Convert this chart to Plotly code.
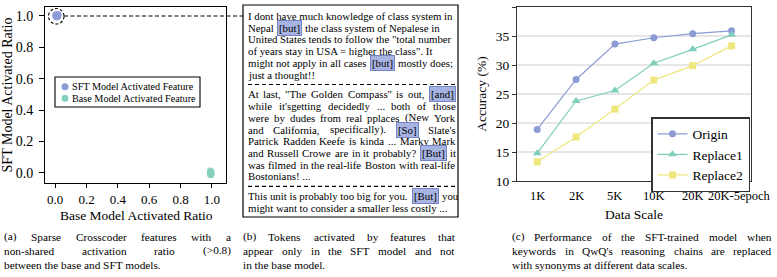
import re
import plotly.graph_objects as go

W, H = 777, 277
FONT = "Liberation Serif"

# ---------------- data ----------------
# (a) scatter of activation ratios
sft_ratio_x = [0.006, 0.012, 0.016, 0.009, 0.013]
sft_ratio_y = [1.004, 0.999, 1.006, 0.996, 1.001]
base_ratio_x = [0.99, 0.993, 0.995, 0.991, 0.994, 0.992]
base_ratio_y = [0.012, 0.007, 0.002, -0.003, -0.008, -0.012]
a_ticks = [0.0, 0.2, 0.4, 0.6, 0.8, 1.0]

# (c) accuracy vs data scale
data_scales = ["1K", "2K", "5K", "10K", "20K", "20K-5epoch"]
acc_origin = [18.9, 27.5, 33.6, 34.7, 35.4, 35.9]
acc_replace1 = [14.8, 23.8, 25.6, 30.3, 32.7, 35.2]
acc_replace2 = [13.3, 17.6, 22.4, 27.4, 29.9, 33.3]
c_yticks = [10, 15, 20, 25, 30, 35, 40]

# (b) token examples
para1 = [
    "I dont have much knowledge of class system in",
    "Nepal [but] the class system of Nepalese in",
    "United States tends to follow the \"total number",
    "of years stay in USA = higher the class\". It",
    "might not apply in all cases [but] mostly does;",
    "just a thought!!",
]
para2 = [
    "At last, \"The Golden Compass\" is out, [and]",
    "while it'sgetting decidedly ... both of those",
    "were by dudes from real pplaces (New York",
    "and California, specifically). [So] Slate's",
    "Patrick Radden Keefe is kinda ... Marky Mark",
    "and Russell Crowe are in it probably? [But] it",
    "was filmed in the real-life Boston with real-life",
    "Bostonians! ...",
]
para3 = [
    "This unit is probably too big for you. [But] you",
    "might want to consider a smaller less costly ...",
]

caption_a = ["(a) Sparse Crosscoder features with a",
             "non-shared activation ratio (>0.8)",
             "between the base and SFT models."]
caption_b = ["(b) Tokens activated by features that",
             "appear only in the SFT model and not",
             "in the base model."]
caption_c = ["(c) Performance of the SFT-trained model when",
             "keywords in QwQ's reasoning chains are replaced",
             "with synonyms at different data scales."]

# ---------------- helpers ----------------
TNR = {' ': 250, '!': 333, '"': 408, '#': 500, '$': 500, '%': 833, '&': 778, "'": 180,
       '(': 333, ')': 333, '*': 500, '+': 564, ',': 250, '-': 333, '.': 250, '/': 278,
       ':': 278, ';': 278, '<': 564, '=': 564, '>': 564, '?': 444, '@': 921,
       '[': 333, ']': 333}
for ch in "0123456789":
    TNR[ch] = 500
for ch, w in zip("ABCDEFGHIJKLMNOPQRSTUVWXYZ",
                 [722, 667, 667, 722, 611, 556, 722, 722, 333, 389, 722, 611, 889,
                  722, 722, 556, 722, 667, 556, 611, 722, 722, 944, 722, 722, 611]):
    TNR[ch] = w
for ch, w in zip("abcdefghijklmnopqrstuvwxyz",
                 [444, 500, 444, 500, 444, 333, 500, 500, 278, 278, 500, 278, 778,
                  500, 500, 500, 500, 333, 389, 278, 500, 500, 722, 500, 500, 444]):
    TNR[ch] = w

FUDGE = 1.01


def tw(s, size):
    return sum(TNR.get(c, 500) for c in s) / 1000.0 * size * FUDGE


def fx(x):
    return x / W


def fy(y):
    return 1 - y / H


def esc(s):
    return s.replace("&", "&amp;").replace("<", "&lt;").replace(">", "&gt;")


annotations = []
shapes = []


def is_token(w):
    return w.startswith("[") and w.endswith("]")


def text_ann(text, x, y, size, token=False, xanchor="left"):
    ann = dict(x=fx(x), y=fy(y), xref="paper", yref="paper", xanchor=xanchor,
               yanchor="middle", showarrow=False, text=esc(text),
               font=dict(family=FONT, size=size, color="black"))
    if token:
        ann.update(bgcolor="#A7B4E2", bordercolor="#7383C6", borderwidth=1, borderpad=1)
    else:
        ann.update(borderwidth=0, borderpad=0)
    annotations.append(ann)


def place_ragged(line, x0, y, size):
    pieces = [p.strip() for p in re.split(r"(\[[^\]]+\])", line)]
    x = x0
    sp = 0.25 * size
    for p in pieces:
        if not p:
            continue
        tok = is_token(p)
        text_ann(p, x, y, size, tok)
        x += tw(p, size) + (4 if tok else 0) + sp


def place_justified(line, x0, x1, y, size):
    words = line.split(" ")
    widths = [tw(w, size) + (4 if is_token(w) else 0) for w in words]
    gap = (x1 - x0 - sum(widths)) / (len(words) - 1)
    x = x0
    for w, wd in zip(words, widths):
        text_ann(w, x, y, size, is_token(w))
        x += wd + gap


# ---------------- figure ----------------
fig = go.Figure()

fig.add_trace(go.Scatter(x=sft_ratio_x, y=sft_ratio_y, mode="markers", xaxis="x", yaxis="y",
                         marker=dict(size=8, color="#8C9BD6", opacity=0.85),
                         name="SFT Model Activated Feature", showlegend=False))
fig.add_trace(go.Scatter(x=base_ratio_x, y=base_ratio_y, mode="markers", xaxis="x", yaxis="y",
                         marker=dict(size=7, color="#86CFBE", opacity=0.85),
                         name="Base Model Activated Feature", showlegend=False))

series = [("Origin", acc_origin, "#8C9BD4", "circle", 7),
          ("Replace1", acc_replace1, "#7FCDBB", "triangle-up", 8),
          ("Replace2", acc_replace2, "#EEE77E", "square", 7)]
for name, vals, col, sym, sz in series:
    fig.add_trace(go.Scatter(x=data_scales, y=vals, mode="lines+markers", xaxis="x2", yaxis="y2",
                             name=name, legend="legend2",
                             line=dict(color=col, width=1.2),
                             marker=dict(symbol=sym, size=sz, color=col)))

# text box (b)
shapes.append(dict(type="rect", xref="paper", yref="paper", x0=fx(243), x1=fx(458), y0=fy(5), y1=fy(217),
                   line=dict(color="black", width=1.2)))
BX0, BX1, BS, L = 248, 456, 10.8, 11.7
y = 16
for ln in para1:
    place_ragged(ln, BX0, y, BS)
    y += L
d1 = y - L + 10
shapes.append(dict(type="line", xref="paper", yref="paper", x0=fx(248), x1=fx(457), y0=fy(d1), y1=fy(d1),
                   line=dict(color="black", width=1.2, dash="4px,3px")))
y = d1 + 10
for i, ln in enumerate(para2):
    if i < len(para2) - 1:
        place_justified(ln, BX0, BX1, y, BS)
    else:
        place_ragged(ln, BX0, y, BS)
    y += L
d2 = y - L + 10
shapes.append(dict(type="line", xref="paper", yref="paper", x0=fx(248), x1=fx(457), y0=fy(d2), y1=fy(d2),
                   line=dict(color="black", width=1.2, dash="4px,3px")))
y = d2 + 10
for ln in para3:
    place_ragged(ln, BX0, y, BS)
    y += L

# dashed circle + connector from (a) to (b)
shapes.append(dict(type="circle", xref="paper", yref="paper", x0=fx(48.5), x1=fx(64), y0=fy(8.5), y1=fy(24),
                   line=dict(color="black", width=1.1, dash="3px,2px")))
shapes.append(dict(type="line", xref="paper", yref="paper", x0=fx(64), x1=fx(243), y0=fy(16), y1=fy(16),
                   line=dict(color="black", width=1.1, dash="4px,2.5px")))

# manual legend for (a)
shapes.append(dict(type="rect", xref="paper", yref="paper", x0=fx(55), x1=fx(200), y0=fy(77), y1=fy(107),
                   line=dict(color="black", width=1.1), fillcolor="white"))
for (lbl, col, yy) in [("SFT Model Activated Feature", "#8C9BD6", 86.7),
                       ("Base Model Activated Feature", "#86CFBE", 98.3)]:
    shapes.append(dict(type="circle", xref="paper", yref="paper", x0=fx(61.5), x1=fx(68.5),
                       y0=fy(yy - 3.5), y1=fy(yy + 3.5), line=dict(width=0), fillcolor=col))
    text_ann(lbl, 71.5, yy, 10.2)

# axis titles placed as text (x axes)
text_ann("Base Model Activated Ratio", 136, 215, 13.5, xanchor="center")
text_ann("Data Scale", 634, 214, 13.5, xanchor="center")

# (c) x tick labels through the category axis
for i, lab in enumerate(data_scales):
    annotations.append(dict(x=lab, y=fy(196), xref="x2", yref="paper", xanchor="center", yanchor="middle",
                            showarrow=False, text=lab, xshift=(8 if i == len(data_scales) - 1 else 0),
                            font=dict(family=FONT, size=12.5, color="black"), borderpad=0, borderwidth=0))

# captions
CS = 11.3
for lines, x0, x1 in [(caption_a, 4, 231), (caption_b, 243, 455), (caption_c, 512, 772)]:
    for i, ln in enumerate(lines):
        yy = 236.5 + 14 * i
        if i < len(lines) - 1:
            place_justified(ln, x0, x1, yy, CS)
        else:
            text_ann(ln, x0, yy, CS)

axis_common = dict(showgrid=False, zeroline=False, ticks="outside", tickwidth=1,
                   tickcolor="black", linecolor="black", linewidth=1, mirror=True, automargin=False)

fig.update_layout(
    width=W, height=H, margin=dict(l=0, r=0, t=0, b=0, autoexpand=False),
    paper_bgcolor="white", plot_bgcolor="white",
    font=dict(family=FONT, color="black"),
    xaxis=dict(domain=[fx(45), fx(226)], range=[-0.065, 1.09], tickvals=a_ticks, tickformat=".1f",
               ticklen=4, tickfont=dict(family=FONT, size=13, color="black"),
               anchor="y", **axis_common),
    yaxis=dict(domain=[fy(183), fy(7)], range=[-0.064, 1.057], tickvals=a_ticks, tickformat=".1f",
               ticklen=5, ticklabelstandoff=3, tickfont=dict(family=FONT, size=14, color="black"),
               title=dict(text="SFT Model Activated Ratio", font=dict(family=FONT, size=14), standoff=5),
               anchor="x", **axis_common),
    xaxis2=dict(domain=[fx(517), fx(751)], range=[-0.52, 5.5], type="category",
                categoryorder="array", categoryarray=data_scales, showticklabels=False,
                showgrid=False, zeroline=False, ticks="", linecolor="#333", linewidth=1.3, mirror=True,
                automargin=False, anchor="y2"),
    yaxis2=dict(domain=[fy(181), fy(7)], range=[10, 40], tickvals=c_yticks,
                showgrid=True, gridcolor="#E6E6E6", gridwidth=1.5, zeroline=False,
                ticks="outside", ticklen=4, tickcolor="#333", linecolor="#333", linewidth=1.3, mirror=True,
                automargin=False,
                tickfont=dict(family=FONT, size=13.5, color="black"),
                title=dict(text="Accuracy (%)", font=dict(family=FONT, size=13.5), standoff=5),
                anchor="x2"),
    legend2=dict(x=fx(651), y=fy(117), xanchor="left", yanchor="top", bgcolor="white",
                 bordercolor="#333", borderwidth=1.5, font=dict(family=FONT, size=13.5, color="black"),
                 tracegroupgap=0, itemwidth=30),
    shapes=shapes, annotations=annotations,
)

fig.write_html("out.html", config={"displayModeBar": False},
               post_script="document.body.style.margin='0';document.body.style.overflow='hidden';")
